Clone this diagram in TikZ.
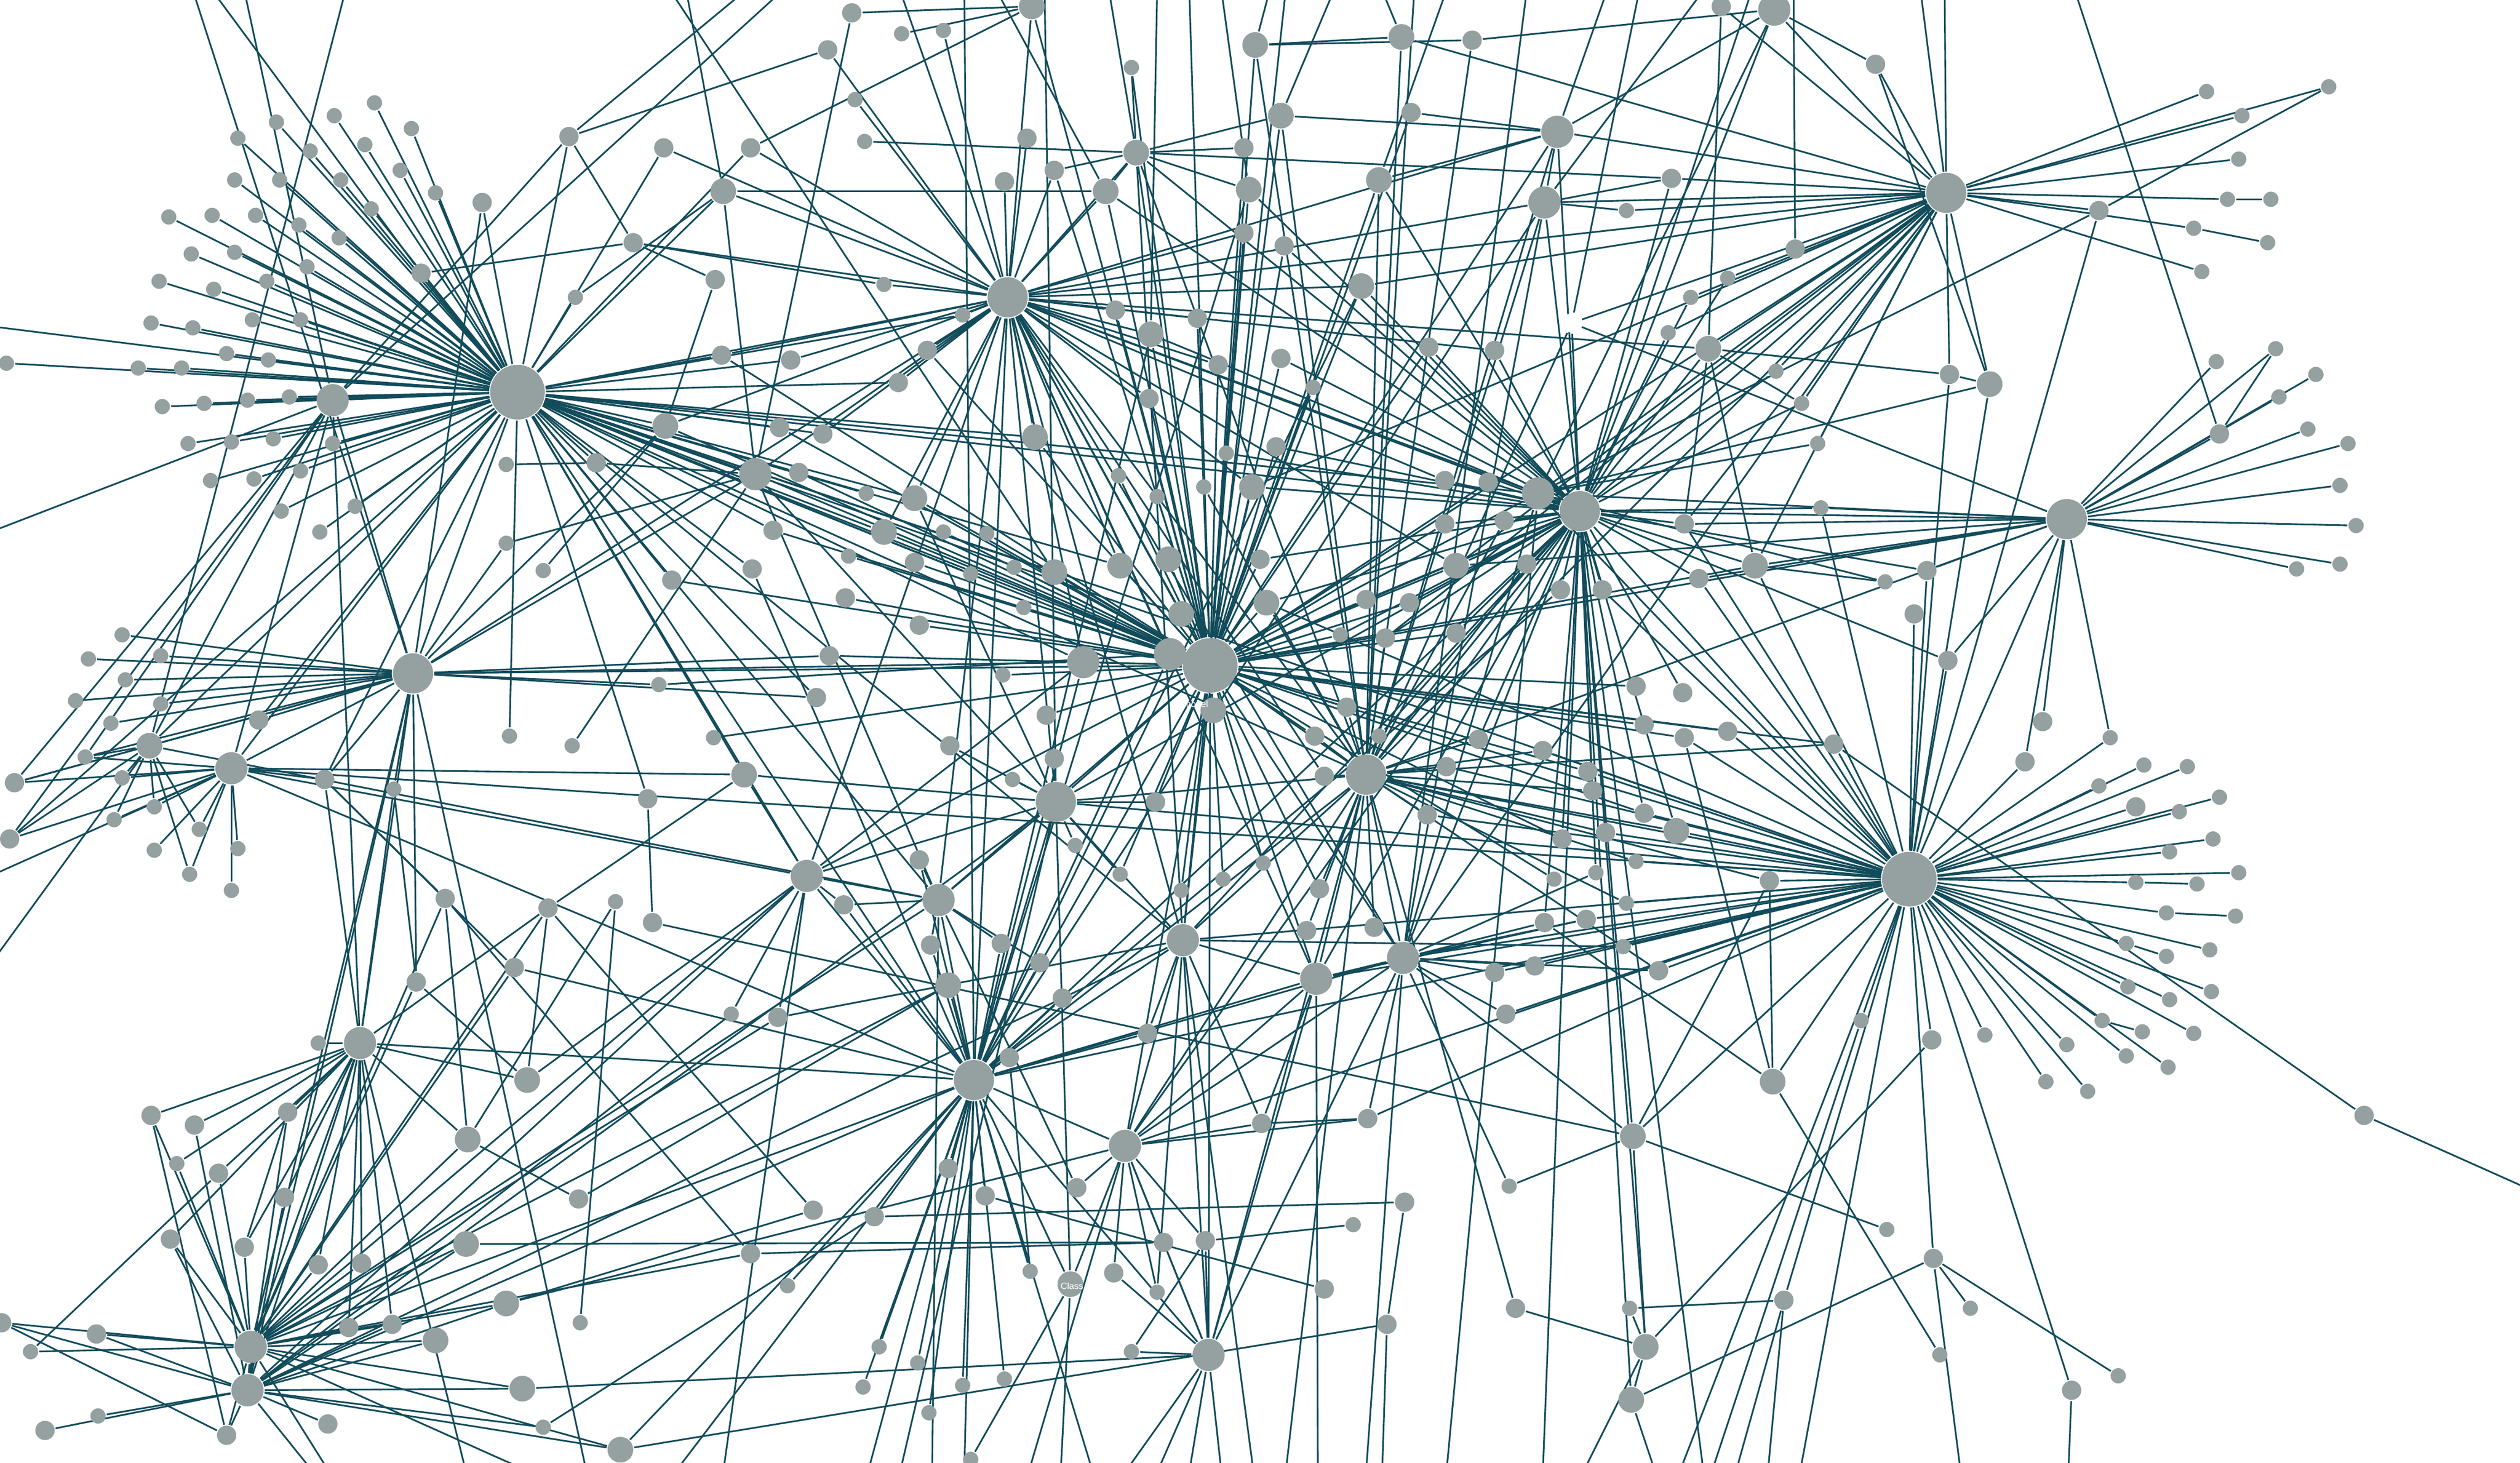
\documentclass[tikz,border=0pt]{standalone}
\usepackage{fontspec}
\setsansfont{Liberation Sans}
\definecolor{nodegray}{HTML}{95A1A0}
\definecolor{edgeteal}{HTML}{124C5B}
\pgfdeclarelayer{edges}
\pgfsetlayers{edges,main}

\begin{document}
\begin{tikzpicture}[x=0.01cm, y=-0.01cm,
		vtx/.style={circle, fill=nodegray, inner sep=0pt},
		hub/.style={vtx, minimum size=0.34cm},
		xl/.style={vtx, minimum size=0.25cm},
		lg/.style={vtx, minimum size=0.20cm},
		md/.style={vtx, minimum size=0.16cm},
		sm/.style={vtx, minimum size=0.12cm},
		lf/.style={vtx, minimum size=0.095cm},
		link/.style={draw=edgeteal, line width=0.3pt},
		lab/.style={text=white, font=\sffamily\fontsize{1.6}{2}\selectfont, inner sep=0pt}]

	\useasboundingbox (0,0) rectangle (1568,910);

	% vertices
	\foreach \x/\y in {322/244,753/414,1188/547}
		\node[hub] (n\x-\y) at (\x,\y) {};
	\foreach \x/\y in {1211/120,1286/323,983/318,850/482,627/185,257/419,657/499,606/672}
		\node[xl] (n\x-\y) at (\x,\y) {};
	\foreach \x/\y in {207/249,470/295,969/82,961/126,1104/6,957/307,674/412,728/407,144/478,502/545,
		224/649,156/838,154/865,584/560,736/585,819/609,873/596,700/713,752/843}
		\node[lg] (n\x-\y) at (\x,\y) {};
	\foreach \x/\y in {642/4,781/28,872/23,707/95,797/72,688/119,777/118,858/112,716/208,847/178,
		644/272,779/303,569/310,550/331,656/356,697/352,727/348,906/352,788/375,735/382,755/442,
		450/119,414/265,1063/217,1238/239,1092/352,93/464,463/482,328/672,291/709,290/774,315/811,
		271/834,325/864,386/902,590/613,1043/517,1016/707,666/799,1024/838,1015/871,1103/673}
		\node[md] (n\x-\y) at (\x,\y) {};
	\foreach \x/\y in {300/126,262/170,354/85,413/92,467/92,394/151,445/174,449/221,492/224,485/266,
		512/270,371/288,497/294,481/330,468/354,418/361,515/31,516/408,508/434,161/448,530/8,916/25,
		639/86,656/106,625/113,774/92,878/70,1040/111,774/145,799/153,694/193,745/198,889/216,930/218,
		577/218,559/238,758/227,797/223,715/248,794/278,569/350,784/348,899/299,926/300,899/326,
		936/324,950/351,971/367,997/367,850/373,877/375,526/372,572/389,862/397,906/394,651/445,
		838/440,1018/427,1023/451,1071/4,1167/40,1306/131,1117/155,1213/233,1381/270,1048/326,
		1057/360,1199/355,1191/382,1212/411,1271/449,1047/431,1075/455,9/487,6/522,202/485,403/497,
		277/559,341/565,406/574,320/602,259/611,484/633,94/694,121/700,179/692,136/730,177/745,
		360/746,106/771,152/776,198/787,225/786,467/780,506/753,1/823,60/830,217/826,244/824,28/890,
		141/893,204/886,591/464,656/472,719/499,818/458,824/483,900/477,920/460,888/507,960/467,
		988/480,991/492,1023/506,999/518,972/522,961/574,987/572,955/601,930/605,937/631,1032/604,
		572/535,525/563,579/588,623/587,647/599,661/621,821/553,813/579,855/577,714/643,628/658,
		785/699,851/696,590/727,613/744,670/739,544/757,724/773,750/772,874/748,693/792,824/802,
		943/814,863/824,1141/463,1048/459,1260/474,1329/502,1101/548,1202/647,1471/694,1203/783,
		1110/809,1289/865}
		\node[sm] (n\x-\y) at (\x,\y) {};
	\foreach \x/\y in {233/64,208/72,172/76,148/86,193/94,227/90,256/80,146/112,174/112,212/112,
		249/106,271/120,231/130,105/135,132/134,159/134,186/140,211/148,119/158,146/157,191/166,
		99/175,133/180,166/175,94/201,120/204,157/199,187/199,4/226,86/229,113/229,141/220,167/224,
		101/253,127/251,154/249,180/247,117/276,144/275,170/273,207/276,131/299,158/298,187/293,
		175/318,221/315,199/331,315/289,315/338,338/355,358/185,410/426,76/395,55/410,100/408,78/423,
		47/436,100/438,69/450,561/21,587/19,704/42,532/62,538/88,1012/131,550/177,599/196,1038/207,
		817/241,763/282,696/296,749/303,720/309,539/307,587/331,614/332,528/346,604/357,631/353,
		637/378,834/395,624/420,1373/57,1449/54,1395/72,1393/99,1386/124,1413/124,1365/142,1411/151,
		1370/169,1075/173,1052/185,1105/231,1121/251,1131/276,1416/217,1379/225,1441/233,1418/247,
		1436/267,1461/276,1456/302,1466/327,1456/351,1429/354,1133/316,1173/362,53/471,76/484,96/502,
		71/510,124/516,96/529,148/528,118/544,144/554,245/491,317/458,356/464,444/459,383/561,455/631,
		198/649,110/724,490/800,361/823,19/841,61/881,338/888,630/485,669/526,697/544,761/547,786/537,
		735/554,858/458,1018/536,967/547,993/543,1012/562,1010/589,842/762,939/738,641/791,720/804,
		1014/814,704/841,547/838,571/848,537/863,599/862,625/858,578/879,604/908,1313/459,1334/476,
		1361/477,1306/489,1381/496,1356/505,1377/522,1350/530,1393/543,1329/549,1367/550,1348/568,
		1391/570,1323/587,1348/595,1375/591,1324/614,1350/622,1376/617,1308/635,1333/642,1365/643,
		1286/650,1323/657,1349/664,1273/673,1299/679,1235/644,1158/635,1174/765,1226/814,1207/843,1318/856}
		\node[lf] (n\x-\y) at (\x,\y) {};
	\node[sm, fill=white] (n978-201) at (978,201) {};

	\node[lab] (tmodel) at (744,438) {model};
	\node[lab] (tclass) at (667,800) {Class};

	% ends beyond the frame
	\foreach \x in {120,132,152,215,417,427,464,487,560,600,620,650,690,720,740,760,790,800,830,860,
		880,900,950,1000,1020,1060,1090,1116,1195,1210,1291}
		\coordinate (nt\x) at (\x,-6);
	\foreach \x in {195,205,290,330,365,420,450,540,560,580,600,640,660,680,700,720,740,760,780,800,
		820,850,860,900,960,985,1030,1045,1060,1065,1080,1100,1120,1220,1287}
		\coordinate (nb\x) at (\x,916);
	\foreach \y in {203,331,545,600}
		\coordinate (nL\y) at (-6,\y);
	\coordinate (nR740) at (1574,740);

	\begin{pgfonlayer}{edges}
		\fill[white] (0,0) rectangle (1568,910);

		\foreach \b in {233-64,208-72,172-76,148-86,193-94,227-90,256-80,146-112,174-112,212-112,
			249-106,271-120,231-130,105-135,132-134,159-134,186-140,211-148,119-158,146-157,191-166,
			99-175,133-180,166-175,94-201,120-204,157-199,187-199,4-226,86-229,113-229,141-220,167-224,
			101-253,127-251,154-249,180-247,117-276,144-275,170-273,207-276,131-299,158-298,187-293,
			175-318,221-315,199-331,300-126,262-170,354-85,358-185,207-249,L203,
			470-295,414-265,485-266,512-270,497-294,569-310,550-331,539-307,604-357,656-356,674-412,
			728-407,753-414,735-382,697-352,606-672,502-545,463-482,144-478,93-464,6-522,257-419,
			450-119,983-318,957-307,627-185,644-272,1188-547,850-482,584-560,736-585,161-448,449-221,
			492-224,481-330,468-354,418-361,508-434,202-485,403-497,599-196,559-238,413-92,467-92,371-288}
			\draw[link] (n322-244) -- (n\b);

		\foreach \b in {93-464,144-478,9-487,6-522,257-419,L331,53-471,t152,t487,354-85,224-649}
			\draw[link] (n207-249) -- (n\b);

		\foreach \b in {76-395,55-410,100-408,78-423,47-436,100-438,69-450,144-478,93-464,161-448,
			9-487,53-471,245-491,202-485,410-426,674-412,753-414,470-295,414-265,315-338,300-126,t120,
			224-649,259-611,156-838,154-865,516-408,508-434,627-185,b365}
			\draw[link] (n257-419) -- (n\b);

		\foreach \b in {53-471,76-484,96-502,71-510,124-516,96-529,148-528,118-544,144-554,9-487,
			463-482,1188-547,202-485,502-545,6-522,L545,606-672}
			\draw[link] (n144-478) -- (n\b);
		\foreach \b in {53-471,9-487,76-484,6-522,96-502,71-510,118-544,t215,L600,584-560,124-516}
			\draw[link] (n93-464) -- (n\b);

		\foreach \b in {94-694,121-700,179-692,110-724,136-730,177-745,198-649,202-485,245-491,
			328-672,291-709,156-838,154-865,217-826,244-824,198-787,225-786,341-565,152-776,606-672,
			b290,106-771}
			\draw[link] (n224-649) -- (n\b);
		\foreach \b in {60-830,1-823,19-841,141-893,154-865,217-826,244-824,271-834,291-709,290-774,
			315-811,325-864,386-902,106-771,152-776,136-730,110-724,94-694,198-787,225-786,606-672,
			502-545,584-560,590-613,259-611,277-559,320-602,341-565,484-633,467-780,b205,b330}
			\draw[link] (n156-838) -- (n\b);
		\foreach \b in {61-881,28-890,141-893,204-886,325-864,386-902,338-888,315-811,290-774,
			271-834,244-824,60-830,106-771,121-700,179-692,606-672,502-545,736-585,177-745,b195,1-823,
			657-499,455-631}
			\draw[link] (n154-865) -- (n\b);

		\foreach \b in {550-177,599-196,577-218,559-238,694-193,716-208,745-198,644-272,656-106,
			625-113,639-86,688-119,642-4,587-19,532-62,707-95,753-414,674-412,728-407,736-585,657-499,
			606-672,502-545,470-295,414-265,969-82,961-126,957-307,983-318,1211-120,847-178,850-482,
			873-596,819-609,569-310,550-331,449-221,492-224,394-151,413-92,467-92,t560,1063-217,
			735-382,697-352,779-303,774-145,758-227,715-248,906-352,899-299,930-218,824-483,512-270,
			584-560,515-31,450-119}
			\draw[link] (n627-185) -- (n\b);

		\foreach \b in {707-95,781-28,777-118,797-72,688-119,716-208,715-248,644-272,763-282,779-303,
			749-303,720-309,697-352,727-348,735-382,788-375,674-412,656-356,569-310,550-331,587-331,
			614-332,631-353,569-350,528-346,526-372,572-389,637-378,624-420,651-445,470-295,414-265,
			485-266,449-221,497-294,481-330,418-361,516-408,983-318,957-307,906-352,862-397,838-440,
			1188-547,1018-427,1023-451,1075-455,1048-459,1141-463,1286-323,1211-120,969-82,755-442,
			736-585,700-713,752-843,606-672,657-499,819-609,850-482,873-596,761-547,735-554,697-544,
			719-499,786-537,821-553,774-92,878-70,858-112,774-145,799-153,694-193,745-198,847-178,
			889-216,926-300,899-326,758-227,797-223,817-241,696-296,794-278,784-348,834-395,850-373,
			877-375,906-394,818-458,988-480,1023-506,972-522,967-547,584-560,502-545,444-459,704-42,
			656-106,577-218,1092-352,642-4,t740}
			\draw[link] (n753-414) -- (n\b);

		\foreach \b in {1260-474,1313-459,1334-476,1361-477,1306-489,1329-502,1381-496,1356-505,
			1377-522,1350-530,1393-543,1329-549,1348-568,1323-587,1375-591,1324-614,1350-622,1376-617,
			1308-635,1365-643,1286-650,1323-657,1349-664,1273-673,1299-679,1235-644,1202-647,1158-635,
			1141-463,983-318,957-307,1092-352,1057-360,1133-316,1048-326,850-482,873-596,819-609,
			1043-517,1101-548,1075-455,1048-459,1023-506,999-518,888-507,1286-323,1213-233,1238-239,
			1199-355,1191-382,1306-131,1110-809,1203-783,1289-865,1103-673,657-499,700-713,606-672,
			736-585,1012-562,1018-536,960-467,987-572,955-601,937-631,1032-604,1010-589,997-367,
			900-477,788-375,b1045,b1120,1212-411,1016-707,930-605,988-480,851-696}
			\draw[link] (n1188-547) -- (n\b);

		\foreach \b in {1373-57,1449-54,1395-72,1393-99,1306-131,1386-124,1365-142,1370-169,1104-6,
			1167-40,1071-4,1213-233,1238-239,969-82,961-126,1040-111,1012-131,983-318,957-307,850-482,
			873-596,1052-185,1075-173,1063-217,1092-352,1048-326,t1195,t1210,906-352,862-397,847-178,
			779-303,978-201,1105-231,1121-251,1131-276,872-23,1038-207}
			\draw[link] (n1211-120) -- (n\b);

		\foreach \b in {1416-217,1379-225,1441-233,1418-247,1381-270,1436-267,1461-276,1456-302,
			1466-327,1456-351,1429-354,983-318,957-307,1092-352,1048-326,1133-316,1212-411,1271-449,
			1260-474,1313-459,1199-355,906-352,850-482,978-201,1057-360}
			\draw[link] (n1286-323) -- (n\b);

		\foreach \b in {873-596,819-609,736-585,700-713,606-672,657-499,1057-360,1133-316,899-299,
			926-300,899-326,936-324,950-351,971-367,997-367,1040-111,969-82,961-126,1063-217,1052-185,
			1075-173,1105-231,1121-251,847-178,858-112,777-118,707-95,1023-506,1043-517,999-518,
			1016-707,1024-838,1015-871,b960,b1060,t1090,794-278,763-282,779-303,784-348,788-375,
			834-395,862-397,850-373,877-375,906-394,906-352,858-458,920-460,991-492,972-522,993-543,
			961-574,688-119,716-208,799-153,889-216,930-218,797-223,1038-207,1047-431,1199-355,
			978-201,1104-6,1212-411,1048-326,957-307,1092-352,850-482}
			\draw[link] (n983-318) -- (n\b);

		\foreach \b in {818-458,824-483,858-458,900-477,920-460,888-507,960-467,991-492,999-518,
			1018-536,1012-562,1032-604,821-553,813-579,855-577,819-609,873-596,736-585,606-672,
			700-713,752-843,657-499,838-440,862-397,788-375,707-95,797-72,781-28,858-112,872-23,916-25,
			969-82,961-126,t880,b800,1043-517,1141-463,1101-548,749-303,936-324,950-351,943-814,978-201}
			\draw[link] (n850-482) -- (n\b);

		\foreach \b in {955-601,930-605,937-631,1032-604,961-574,987-572,819-609,752-843,700-713,
			606-672,851-696,1016-707,957-307,939-738,993-543,b850,t950,961-126}
			\draw[link] (n873-596) -- (n\b);
		\foreach \b in {785-699,752-843,700-713,736-585,606-672,b820,987-572}
			\draw[link] (n819-609) -- (n\b);
		\foreach \b in {714-643,700-713,752-843,606-672,657-499,785-699,707-95,b780,t800,720-804,
			484-633,1010-589}
			\draw[link] (n736-585) -- (n\b);
		\foreach \b in {670-739,724-773,750-772,785-699,851-696,752-843,666-799,606-672,693-792,
			720-804,b640}
			\draw[link] (n700-713) -- (n\b);
		\foreach \b in {704-841,750-772,724-773,693-792,b700,b720,b740,b760,606-672}
			\draw[link] (n752-843) -- (n\b);
		\foreach \b in {674-412,728-407,657-499,584-560,590-613,628-658,661-621,714-643,572-535,
			525-563,579-588,623-587,647-599,502-545,590-727,613-744,544-757,547-838,571-848,537-863,
			599-862,625-858,578-879,641-791,666-799,b420,b540,b600,b680,t600,777-118,716-208,847-178,
			468-354,971-367,961-126}
			\draw[link] (n606-672) -- (n\b);
		\foreach \b in {630-485,591-464,656-472,719-499,669-526,697-544,502-545,584-560,470-295,
			569-310,b560,t650,666-799,463-482}
			\draw[link] (n657-499) -- (n\b);
		\foreach \b in {525-563,572-535,579-588,623-587,647-599,470-295,502-545,b580,670-739}
			\draw[link] (n584-560) -- (n\b);
		\foreach \b in {463-482,455-631,484-633,674-412,525-563,b450,328-672}
			\draw[link] (n502-545) -- (n\b);

		\foreach \a/\b in {1329-549/1367-550,1348-568/1391-570,1323-587/1348-595,1308-635/1333-642,
			1386-124/1413-124,1365-142/1411-151,1306-131/1449-54,1306-131/957-307,1381-270/t1291,
			1381-270/1416-217,
			1-823/141-893,19-841/136-730,94-694/141-893,152-776/179-692,290-774/724-773,315-811/506-753,
			315-811/700-713,361-823/383-561,325-864/752-843,386-902/606-672,386-902/863-824,
			338-888/544-757,490-800/606-672,467-780/724-773,277-559/467-780,406-574/1016-707,
			360-746/291-709,360-746/590-613,245-491/259-611,277-559/202-485,277-559/291-709,
			320-602/202-485,320-602/606-672,259-611/328-672,341-565/463-482,341-565/328-672,
			383-561/291-709,403-497/406-574,356-464/470-295,317-458/322-244,506-753/341-565,
			1016-707/939-738,1016-707/1024-838,1016-707/1101-548,1016-707/1174-765,1024-838/1014-814,
			1024-838/1015-871,1024-838/943-814,1024-838/1202-647,1015-871/b1030,1015-871/1203-783,
			863-824/874-748,863-824/b860,544-757/874-748,750-772/842-762,613-744/824-802,
			785-699/851-696,704-841/750-772,666-799/604-908,666-799/b660,641-791/628-658,1024-838/b985,
			1203-783/1226-814,1203-783/1318-856,1203-783/b1220,1207-843/1103-673,1110-809/1014-814,
			1110-809/b1080,1110-809/b1100,1289-865/b1287,1158-635/b1065,1103-673/1048-459,
			1103-673/1101-548,1103-673/961-574,1471-694/1141-463,1471-694/R740,957-307/b900,
			797-72/707-95,797-72/969-82,797-72/t830,774-92/707-95,878-70/969-82,916-25/1104-6,
			916-25/781-28,688-119/t620,777-118/707-95,777-118/t760,858-112/t900,858-112/969-82,
			716-208/t720,707-95/t690,707-95/1040-111,707-95/704-42,707-95/688-119,707-95/656-106,
			707-95/538-88,781-28/872-23,781-28/t790,872-23/t860,969-82/961-126,969-82/t1000,
			969-82/1104-6,961-126/1040-111,961-126/1012-131,961-126/t1060,1104-6/957-307,1104-6/1167-40,
			1071-4/1063-217,1117-155/t1116,1167-40/1238-239,1063-217/1213-233,1063-217/1121-251,
			1063-217/1092-352,1063-217/1048-326,1238-239/1213-233,1238-239/957-307,530-8/642-4,
			561-21/642-4,530-8/470-295,978-201/t1020,1131-276/957-307,1173-362/957-307,1173-362/1092-352,
			354-85/t464,354-85/515-31,354-85/394-151,467-92/642-4,450-119/t427,450-119/688-119,
			450-119/470-295,394-151/262-170,394-151/445-174,394-151/550-177,445-174/414-265,
			371-288/315-289,371-288/470-295,315-338/470-295,338-355/414-265,410-426/728-407,
			358-185/450-119,t132/262-170,t417/656-356}
			\draw[link] (n\a) -- (n\b);
	\end{pgfonlayer}
\end{tikzpicture}
\end{document}
